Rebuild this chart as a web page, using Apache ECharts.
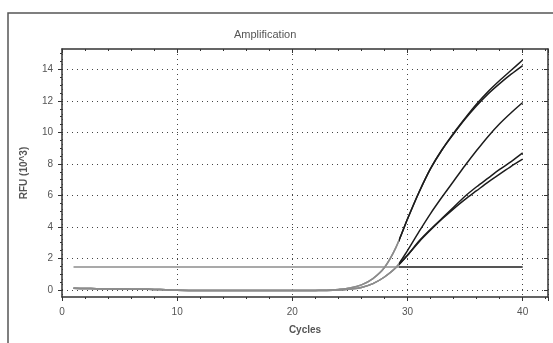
<!DOCTYPE html>
<html>
<head>
<meta charset="utf-8">
<script src="https://cdn.jsdelivr.net/npm/echarts@6/dist/echarts.min.js"></script>
<style>
  html, body { margin: 0; padding: 0; background: #ffffff; }
  #chart { width: 553px; height: 343px; }
</style>
</head>
<body>
<div id="chart"></div>
<script>
// Amplification curves (RFU in thousands) against PCR cycle number
const cycles = [1,2,3,4,5,6,7,8,9,10,11,12,13,14,15,16,17,18,19,20,
                21,22,23,24,25,26,27,28,29,30,31,32,33,34,35,36,37,38,39,40];

const wellA1 = [0.10,0.09,0.08,0.07,0.06,0.05,0.04,0.03,0.01,-0.02,-0.03,-0.03,-0.04,-0.04,-0.04,-0.04,-0.04,-0.04,-0.04,-0.04,
                -0.04,-0.03,-0.02,0.03,0.12,0.32,0.72,1.42,2.70,4.50,6.20,7.70,8.90,9.95,10.90,11.80,12.60,13.30,13.95,14.60];
const wellA2 = [0.10,0.09,0.08,0.07,0.06,0.05,0.04,0.03,0.01,-0.02,-0.03,-0.03,-0.04,-0.04,-0.04,-0.04,-0.04,-0.04,-0.04,-0.04,
                -0.04,-0.03,-0.02,0.03,0.12,0.32,0.72,1.42,2.70,4.50,6.20,7.70,8.90,9.90,10.85,11.70,12.45,13.10,13.70,14.25];
const wellB1 = [0.10,0.09,0.08,0.07,0.06,0.05,0.04,0.03,0.01,-0.02,-0.03,-0.03,-0.04,-0.04,-0.04,-0.04,-0.04,-0.04,-0.04,-0.04,
                -0.04,-0.03,-0.03,-0.01,0.06,0.16,0.40,0.82,1.42,2.50,3.70,4.85,5.90,6.90,7.90,8.85,9.75,10.55,11.25,11.90];
const wellC1 = [0.10,0.09,0.08,0.07,0.06,0.05,0.04,0.03,0.01,-0.02,-0.03,-0.03,-0.04,-0.04,-0.04,-0.04,-0.04,-0.04,-0.04,-0.04,
                -0.04,-0.03,-0.03,-0.01,0.06,0.16,0.40,0.82,1.42,2.20,3.10,3.85,4.55,5.25,5.95,6.55,7.10,7.65,8.15,8.70];
const wellC2 = [0.10,0.09,0.08,0.07,0.06,0.05,0.04,0.03,0.01,-0.02,-0.03,-0.03,-0.04,-0.04,-0.04,-0.04,-0.04,-0.04,-0.04,-0.04,
                -0.04,-0.03,-0.03,-0.01,0.06,0.16,0.40,0.82,1.42,2.20,3.05,3.80,4.50,5.15,5.75,6.30,6.85,7.35,7.85,8.30];

const thresholdCycles = [1, 40];
const thresholdRFU = 1.45;

const yMajorTicks = [0, 2, 4, 6, 8, 10, 12, 14];
const yMinorTicks = [0.5, 1, 1.5, 2.5, 3, 3.5, 4.5, 5, 5.5, 6.5, 7, 7.5, 8.5, 9, 9.5,
                     10.5, 11, 11.5, 12.5, 13, 13.5, 14.5, 15];

const pairs = (xs, ys) => xs.map((x, i) => [x, ys[i]]);

const chart = echarts.init(document.getElementById('chart'), null, { renderer: 'canvas' });

const FONT = 'Liberation Sans, Arial, sans-serif';
const AXIS_COLOR = '#333';
const X_MIN = 0, X_MAX = 42.2, Y_MIN = -0.45, Y_MAX = 15.3;

const curveSeries = [wellA1, wellA2, wellB1, wellC1, wellC2].map((vals, i) => ({
  name: 'well' + i,
  type: 'line',
  data: pairs(cycles, vals),
  smooth: 0.3,
  showSymbol: false,
  lineStyle: { width: 1.5 },
  z: 3
}));

const option = {
  animation: false,
  backgroundColor: '#ffffff',
  title: {
    text: 'Amplification',
    left: 229, top: 24,
    textStyle: { fontFamily: FONT, fontSize: 11, fontWeight: 'normal', color: '#555' }
  },
  graphic: [
    {
      type: 'rect',
      shape: { x: 8, y: 13, width: 600, height: 400 },
      style: { fill: 'none', stroke: '#555', lineWidth: 1.5 },
      silent: true
    }
  ],
  grid: { left: 62, right: 5, top: 49, bottom: 46, containLabel: false },
  visualMap: {
    show: false,
    type: 'piecewise',
    dimension: 0,
    seriesIndex: [0, 1, 2, 3, 4, 5],
    pieces: [
      { gte: 0, lt: 29.3, color: '#8c8c8c' },
      { gte: 29.3, lte: 45, color: '#1c1c1c' }
    ]
  },
  xAxis: [
    {
      type: 'value', min: X_MIN, max: X_MAX, interval: 10, position: 'bottom',
      name: 'Cycles', nameLocation: 'middle', nameGap: 28,
      nameTextStyle: { fontFamily: FONT, fontSize: 10, fontWeight: 'bold', color: '#555' },
      axisLine: { onZero: false, lineStyle: { color: AXIS_COLOR, width: 1.5 } },
      axisTick: { show: true, length: 4, lineStyle: { color: AXIS_COLOR } },
      minorTick: { show: true, splitNumber: 5, length: 2, lineStyle: { color: AXIS_COLOR } },
      axisLabel: { fontFamily: FONT, fontSize: 10, color: '#555', margin: 10, showMaxLabel: false,
                   formatter: v => (v % 10 === 0 ? String(v) : '') },
      splitLine: { show: true, lineStyle: { type: [1, 4], color: '#444', width: 1 } }
    },
    {
      type: 'value', min: X_MIN, max: X_MAX, interval: 10, position: 'top',
      axisLine: { onZero: false, lineStyle: { color: AXIS_COLOR, width: 1.5 } },
      axisTick: { show: true, inside: true, length: 4, lineStyle: { color: AXIS_COLOR } },
      minorTick: { show: true, splitNumber: 5, length: 2, lineStyle: { color: AXIS_COLOR } },
      axisLabel: { show: false },
      splitLine: { show: false }
    }
  ],
  yAxis: [
    {
      type: 'value', min: Y_MIN, max: Y_MAX, position: 'left',
      name: 'RFU (10^3)', nameLocation: 'middle', nameGap: 33, nameRotate: 90,
      nameTextStyle: { fontFamily: FONT, fontSize: 10, fontWeight: 'bold', color: '#555' },
      axisLine: { onZero: false, lineStyle: { color: AXIS_COLOR, width: 1.5 } },
      axisTick: { show: true, length: 4, customValues: yMajorTicks, lineStyle: { color: AXIS_COLOR } },
      axisLabel: { fontFamily: FONT, fontSize: 10, color: '#555', margin: 9, customValues: yMajorTicks },
      splitLine: { show: true, lineStyle: { type: [1, 4], color: '#444', width: 1 } }
    },
    {
      type: 'value', min: Y_MIN, max: Y_MAX, position: 'left',
      axisLine: { show: false },
      axisTick: { show: true, length: 2, customValues: yMinorTicks, lineStyle: { color: AXIS_COLOR } },
      axisLabel: { show: false },
      splitLine: { show: false }
    },
    {
      type: 'value', min: Y_MIN, max: Y_MAX, position: 'right',
      axisLine: { onZero: false, lineStyle: { color: AXIS_COLOR, width: 1.5 } },
      axisTick: { show: true, inside: true, length: 4, customValues: yMajorTicks, lineStyle: { color: AXIS_COLOR } },
      axisLabel: { show: false },
      splitLine: { show: false }
    },
    {
      type: 'value', min: Y_MIN, max: Y_MAX, position: 'right',
      axisLine: { show: false },
      axisTick: { show: true, inside: true, length: 2, customValues: yMinorTicks, lineStyle: { color: AXIS_COLOR } },
      axisLabel: { show: false },
      splitLine: { show: false }
    }
  ],
  series: [
    {
      name: 'threshold',
      type: 'line',
      data: thresholdCycles.map(c => [c, thresholdRFU]),
      showSymbol: false,
      lineStyle: { width: 1.5 },
      z: 2
    },
    ...curveSeries
  ]
};

chart.setOption(option);
</script>
</body>
</html>
